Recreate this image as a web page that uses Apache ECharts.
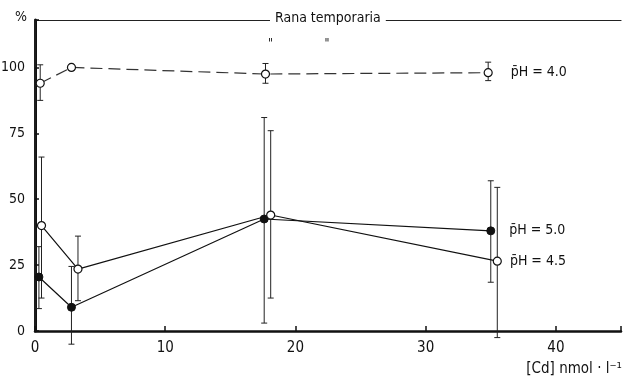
<!DOCTYPE html>
<html>
<head>
<meta charset="utf-8">
<script src="https://cdn.jsdelivr.net/npm/echarts@6/dist/echarts.min.js"></script>
<style>
html, body { margin: 0; padding: 0; background: #fff; }
#chart { width: 623px; height: 378px; }
</style>
</head>
<body>
<div id="chart"></div>
<script>
// Rana temporaria - survival (%) vs Cd concentration, three pH levels
const xTicks = [0, 10, 20, 30, 40]
const yTicks = [0, 25, 50, 75, 100]

// pH 4.0 (open circles, dashed line)
const x40 = [0.4, 2.8, 17.7, 34.8]
const y40 = [94, 100, 97.5, 98]
const lo40 = [87.5, 100, 94, 95]
const hi40 = [101, 100, 101.5, 102]

// pH 5.0 (filled circles)
const x50 = [0.3, 2.8, 17.6, 35.0]
const y50 = [20.5, 9, 42.5, 38]
const lo50 = [8.5, -5, 3, 18.5]
const hi50 = [32, 24.5, 81, 57]

// pH 4.5 (open circles)
const x45 = [0.5, 3.3, 18.1, 35.5]
const y45 = [40, 23.5, 44, 26.5]
const lo45 = [12.5, 11.5, 12.5, -2.5]
const hi45 = [66, 36, 76, 54.5]

const FONT = '"Liberation Sans Narrow", "DejaVu Sans Condensed", "DejaVu Sans", sans-serif'
const INK = '#111'

function pts (xs, ys, label, dist) {
    return xs.map((x, i) => {
        let item = { value: [x, ys[i]] }
        if (i === xs.length - 1) {
            item.label = {
                show: true,
                position: 'right',
                distance: dist,
                formatter: label,
                color: INK,
                fontFamily: FONT,
                fontSize: 14
            }
        }
        return item
    })
}

function errs (xs, lo, hi) {
    return xs.map((x, i) => [x, lo[i], hi[i]])
}

function errItem (params, api) {
    let x = api.value(0), lo = api.value(1), hi = api.value(2)
    if (lo === hi) return null
    let a = api.coord([x, hi])
    let b = api.coord([x, lo])
    let w = 3
    let st = { stroke: '#222', lineWidth: 1 }
    return {
        type: 'group',
        children: [
            { type: 'line', shape: { x1: a[0], y1: a[1], x2: b[0], y2: b[1] }, style: st },
            { type: 'line', shape: { x1: a[0] - w, y1: a[1], x2: a[0] + w, y2: a[1] }, style: st },
            { type: 'line', shape: { x1: b[0] - w, y1: b[1], x2: b[0] + w, y2: b[1] }, style: st }
        ]
    }
}

function errSeries (data) {
    return {
        type: 'custom',
        renderItem: errItem,
        data: data,
        encode: { x: 0, y: [1, 2] },
        clip: false,
        silent: true,
        z: 1
    }
}

let myChart = echarts.init(document.getElementById('chart'))
let option = {
    animation: false,
    backgroundColor: '#fff',
    textStyle: { fontFamily: FONT },
    title: [{
        text: 'Rana temporaria',
        left: 270,
        top: 11,
        padding: [0, 5],
        backgroundColor: '#fff',
        textStyle: { fontFamily: FONT, fontSize: 14, fontWeight: 'normal', color: INK }
    }, {
        text: '"               "',
        left: 268,
        top: 38,
        padding: 0,
        textStyle: { fontFamily: FONT, fontSize: 12, fontWeight: 'normal', color: INK }
    }, {
        text: '[Cd] nmol · l⁻¹',
        right: 1,
        top: 362,
        padding: 0,
        textStyle: { fontFamily: FONT, fontSize: 15, fontWeight: 'normal', color: INK }
    }],
    grid: { left: 35, top: 20, right: 2, bottom: 47, containLabel: false, outerBoundsMode: 'none' },
    xAxis: [{
        type: 'value',
        min: 0,
        max: 45,
        interval: 10,
        splitLine: { show: false },
        axisLine: { lineStyle: { color: INK, width: 2.5 } },
        axisTick: { inside: true, length: 5, lineStyle: { color: INK, width: 1.5 } },
        axisLabel: {
            margin: 10,
            color: INK,
            fontSize: 15,
            fontFamily: FONT,
            formatter: v => xTicks.indexOf(v) >= 0 ? String(v) : ''
        }
    }, {
        type: 'value',
        position: 'top',
        min: 0,
        max: 45,
        axisLine: { show: true, onZero: false, lineStyle: { color: '#222', width: 1.2 } },
        axisTick: { show: false },
        axisLabel: { show: false },
        splitLine: { show: false }
    }],
    yAxis: [{
        type: 'value',
        min: 0,
        max: 118,
        interval: 25,
        name: '%',
        nameLocation: 'end',
        nameGap: 3,
        nameTextStyle: { color: INK, fontSize: 14, fontFamily: FONT, align: 'right', verticalAlign: 'middle', padding: [0, 8, 0, 0] },
        splitLine: { show: false },
        axisLine: { show: true, lineStyle: { color: INK, width: 3 } },
        axisTick: { inside: true, length: 4, lineStyle: { color: INK, width: 1.5 } },
        axisLabel: {
            margin: 10,
            color: INK,
            fontSize: 14,
            fontFamily: FONT,
            formatter: v => yTicks.indexOf(v) >= 0 ? String(v) : ''
        }
    }, {
        type: 'value',
        position: 'right',
        min: 0,
        max: 118,
        axisLine: { show: true, lineStyle: { color: '#222', width: 1.5 } },
        axisTick: { show: false },
        axisLabel: { show: false },
        splitLine: { show: false }
    }],
    series: [
        errSeries(errs(x40, lo40, hi40)),
        errSeries(errs(x50, lo50, hi50)),
        errSeries(errs(x45, lo45, hi45)),
        {
            name: 'pH 4.0',
            type: 'line',
            data: pts(x40, y40, 'p̄H = 4.0', 18),
            symbol: 'circle',
            symbolSize: 8,
            lineStyle: { color: '#333', width: 1.2, type: [12, 6] },
            itemStyle: { color: '#fff', borderColor: INK, borderWidth: 1.2 },
            z: 3
        },
        {
            name: 'pH 5.0',
            type: 'line',
            data: pts(x50, y50, 'p̄H = 5.0', 14),
            symbol: 'circle',
            symbolSize: 8,
            lineStyle: { color: INK, width: 1.2 },
            itemStyle: { color: INK, borderColor: INK, borderWidth: 1 },
            z: 3
        },
        {
            name: 'pH 4.5',
            type: 'line',
            data: pts(x45, y45, 'p̄H = 4.5', 8),
            symbol: 'circle',
            symbolSize: 8,
            lineStyle: { color: INK, width: 1.2 },
            itemStyle: { color: '#fff', borderColor: INK, borderWidth: 1.2 },
            z: 4
        }
    ]
}
myChart.setOption(option)
window.addEventListener('resize', function () {
    myChart.resize()
})
</script>
</body>
</html>
